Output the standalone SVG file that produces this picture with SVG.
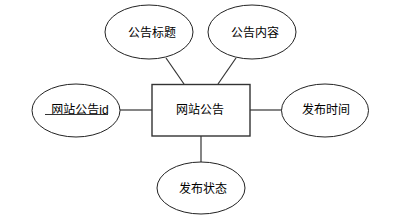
<svg xmlns="http://www.w3.org/2000/svg" width="393" height="222" viewBox="0 0 393 222">
<style>
.e{fill:#fff;stroke:#222;stroke-width:1}
.r{fill:#fff;stroke:#333;stroke-width:1.4}
.c{stroke:#333;stroke-width:1.2;fill:none}
.t{font-family:"Liberation Sans","Noto Sans CJK SC",sans-serif;font-size:12px;fill:#000;text-anchor:middle;dominant-baseline:central}
</style>
<rect width="393" height="222" fill="#fff"/>
<g id="connectors">
<line class="c" x1="166" y1="58" x2="184" y2="84"/>
<line class="c" x1="236" y1="58" x2="218" y2="84"/>
<line class="c" x1="120" y1="110" x2="152" y2="110"/>
<line class="c" x1="250" y1="110" x2="282" y2="110"/>
<line class="c" x1="201" y1="136" x2="201" y2="162"/>
</g>
<g id="entity">
<rect class="r" x="152" y="84.5" width="98" height="51.5"/>
<text class="t" x="200" y="110">网站公告</text>
</g>
<g id="attr-title">
<ellipse class="e" cx="149" cy="32" rx="44" ry="27"/>
<text class="t" x="152" y="33">公告标题</text>
</g>
<g id="attr-content">
<ellipse class="e" cx="252" cy="32" rx="44" ry="27"/>
<text class="t" x="255" y="33">公告内容</text>
</g>
<g id="attr-id">
<ellipse class="e" cx="76" cy="110.5" rx="44" ry="26.5"/>
<text class="t" x="80" y="110">网站公告id</text>
<line x1="45" y1="114.5" x2="108" y2="114.5" stroke="#333" stroke-width="1"/>
</g>
<g id="attr-time">
<ellipse class="e" cx="325" cy="110.5" rx="43.5" ry="26.5"/>
<text class="t" x="326" y="110">发布时间</text>
</g>
<g id="attr-status">
<ellipse class="e" cx="201" cy="188" rx="44" ry="26"/>
<text class="t" x="203" y="189">发布状态</text>
</g>
</svg>
